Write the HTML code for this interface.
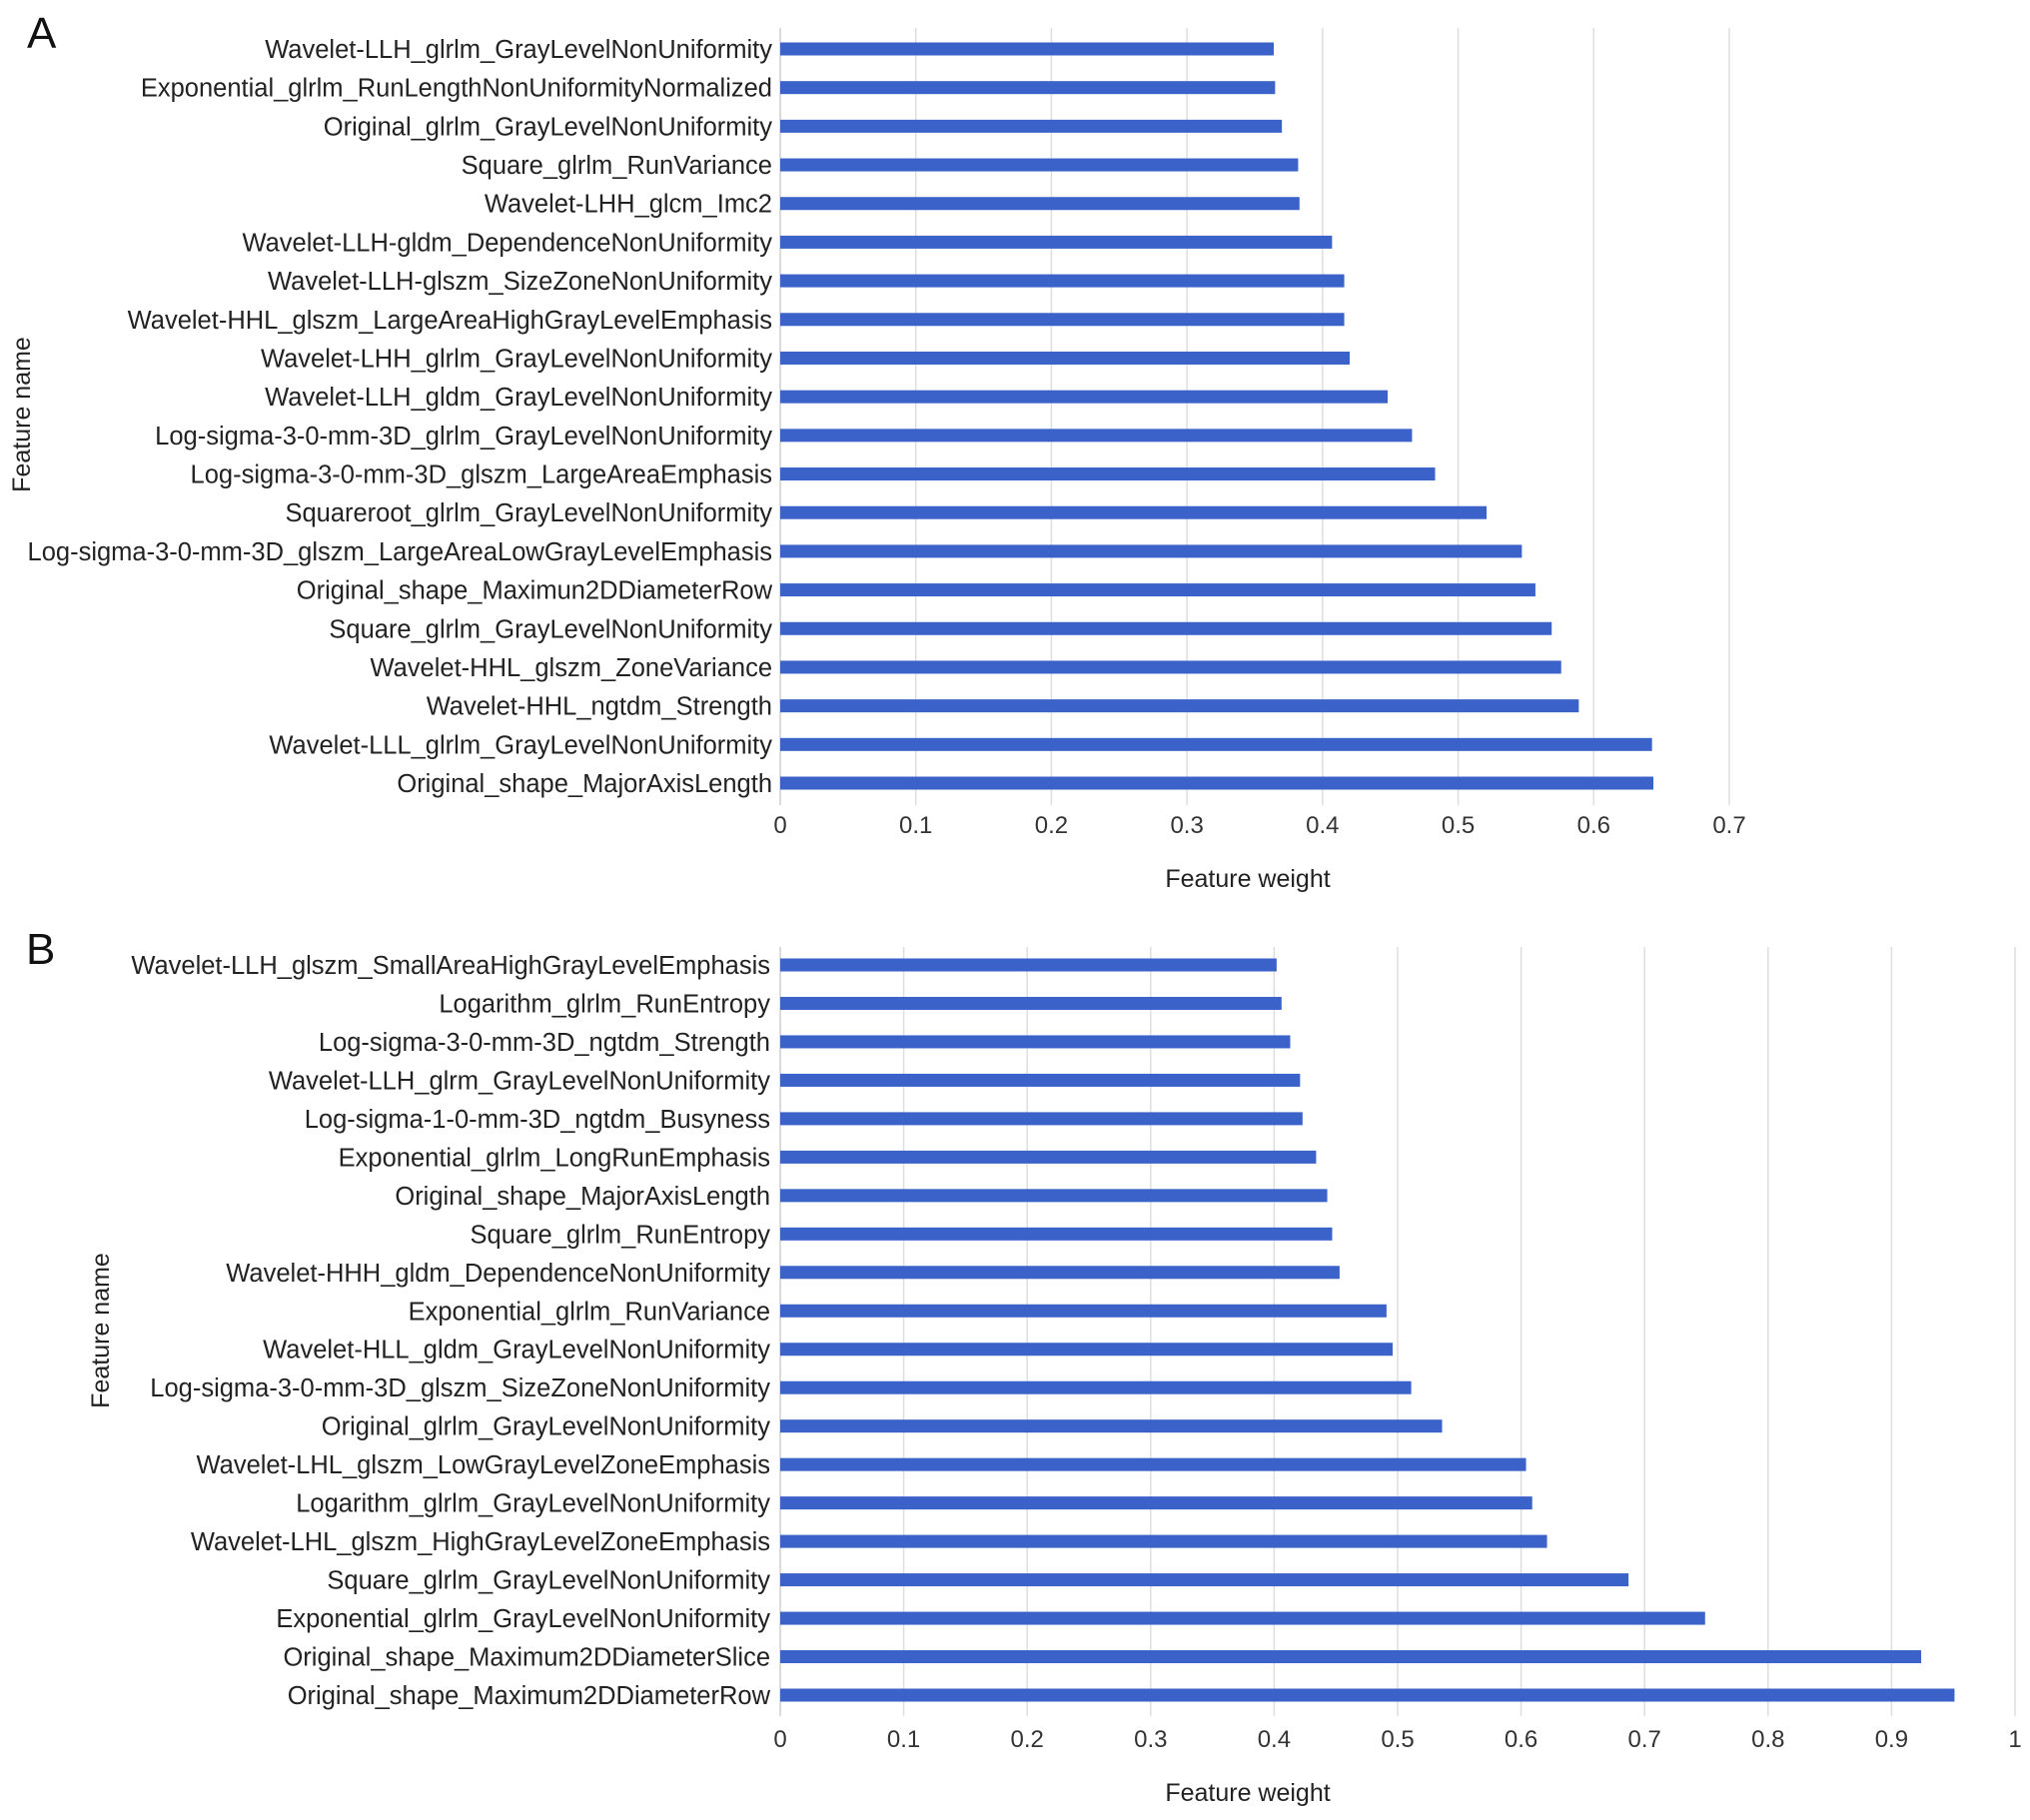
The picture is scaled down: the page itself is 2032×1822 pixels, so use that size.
<!DOCTYPE html>
<html><head><meta charset="utf-8"><style>
html,body{margin:0;padding:0;background:#fff;}
svg{display:block;font-family:"Liberation Sans",Arial,sans-serif;}
</style></head><body>
<svg id="fig" width="2032" height="1822" viewBox="0 0 2032 1822"></svg>
<script>
const labelsA = ["Wavelet-LLH_glrlm_GrayLevelNonUniformity","Exponential_glrlm_RunLengthNonUniformityNormalized","Original_glrlm_GrayLevelNonUniformity","Square_glrlm_RunVariance","Wavelet-LHH_glcm_Imc2","Wavelet-LLH-gldm_DependenceNonUniformity","Wavelet-LLH-glszm_SizeZoneNonUniformity","Wavelet-HHL_glszm_LargeAreaHighGrayLevelEmphasis","Wavelet-LHH_glrlm_GrayLevelNonUniformity","Wavelet-LLH_gldm_GrayLevelNonUniformity","Log-sigma-3-0-mm-3D_glrlm_GrayLevelNonUniformity","Log-sigma-3-0-mm-3D_glszm_LargeAreaEmphasis","Squareroot_glrlm_GrayLevelNonUniformity","Log-sigma-3-0-mm-3D_glszm_LargeAreaLowGrayLevelEmphasis","Original_shape_Maximun2DDiameterRow","Square_glrlm_GrayLevelNonUniformity","Wavelet-HHL_glszm_ZoneVariance","Wavelet-HHL_ngtdm_Strength","Wavelet-LLL_glrlm_GrayLevelNonUniformity","Original_shape_MajorAxisLength"];
const valuesA = [0.364,0.365,0.370,0.382,0.383,0.407,0.416,0.416,0.420,0.448,0.466,0.483,0.521,0.547,0.557,0.569,0.576,0.589,0.643,0.644];
const ticksA = ["0","0.1","0.2","0.3","0.4","0.5","0.6","0.7"];
const labelsB = ["Wavelet-LLH_glszm_SmallAreaHighGrayLevelEmphasis","Logarithm_glrlm_RunEntropy","Log-sigma-3-0-mm-3D_ngtdm_Strength","Wavelet-LLH_glrm_GrayLevelNonUniformity","Log-sigma-1-0-mm-3D_ngtdm_Busyness","Exponential_glrlm_LongRunEmphasis","Original_shape_MajorAxisLength","Square_glrlm_RunEntropy","Wavelet-HHH_gldm_DependenceNonUniformity","Exponential_glrlm_RunVariance","Wavelet-HLL_gldm_GrayLevelNonUniformity","Log-sigma-3-0-mm-3D_glszm_SizeZoneNonUniformity","Original_glrlm_GrayLevelNonUniformity","Wavelet-LHL_glszm_LowGrayLevelZoneEmphasis","Logarithm_glrlm_GrayLevelNonUniformity","Wavelet-LHL_glszm_HighGrayLevelZoneEmphasis","Square_glrlm_GrayLevelNonUniformity","Exponential_glrlm_GrayLevelNonUniformity","Original_shape_Maximum2DDiameterSlice","Original_shape_Maximum2DDiameterRow"];
const valuesB = [0.402,0.406,0.413,0.421,0.423,0.434,0.443,0.447,0.453,0.491,0.496,0.511,0.536,0.604,0.609,0.621,0.687,0.749,0.924,0.951];
const ticksB = ["0","0.1","0.2","0.3","0.4","0.5","0.6","0.7","0.8","0.9","1"];

const NS="http://www.w3.org/2000/svg";
const svg=document.getElementById('fig');
function mk(tag,attrs,parent){const e=document.createElementNS(NS,tag);for(const k in attrs)e.setAttribute(k,attrs[k]);(parent||svg).appendChild(e);return e;}

function chart(cfg,labels,values,ticks){
  const g=mk('g',{});
  
  
  const xMax=parseFloat(ticks[ticks.length-1]);
  const x=v=>cfg.x0+(v/xMax)*(cfg.x1-cfg.x0);
  const n=labels.length;
  const y=i=>cfg.yFirst+i*(cfg.yLast-cfg.yFirst)/(n-1);
  ticks.forEach((t,i)=>{
    const v=parseFloat(t);
    const ln=mk('line',{x1:x(v),x2:x(v),y1:cfg.gTop,y2:cfg.gBot,stroke:i===0?'#cfcfcf':'#dedede','stroke-width':1.5},g);
    
    
    const tx=mk('text',{x:x(v),y:cfg.tickY,'font-size':24,'text-anchor':'middle',fill:'#333'},g);
    tx.textContent=t;
    
    
  });
  labels.forEach((lab,i)=>{
    const r=mk('rect',{x:cfg.x0,y:y(i)-6.5,width:x(values[i])-cfg.x0,height:13,fill:'#3a62c8'},g);
    
    
    const t=mk('text',{x:cfg.labelX,y:y(i)+9,'font-size':25.5,'text-anchor':'end',fill:'#222'},g);
    t.textContent=lab;
    
    
  });
  const xt=mk('text',{x:1249,y:cfg.titleY,'font-size':25,'text-anchor':'middle',fill:'#222'},g);
  xt.textContent='Feature weight';
  
  
  const yt=mk('text',{x:0,y:0,'font-size':25,'text-anchor':'middle',fill:'#222',transform:`translate(${cfg.ytX},${cfg.ytY}) rotate(-90)`},g);
  yt.textContent='Feature name';
  
  
  const pl=mk('text',{x:cfg.panelX,y:cfg.panelY,'font-size':44,fill:'#111'},g);
  pl.textContent=cfg.panel;
  
  
}
chart({name:'chart-a',panel:'A',panelX:27,panelY:48,x0:781,x1:1731,yFirst:49,yLast:784,gTop:28,gBot:806,tickY:834,titleY:888,labelX:773,ytX:30,ytY:415},labelsA,valuesA,ticksA);
chart({name:'chart-b',panel:'B',panelX:26,panelY:965,x0:781,x1:2017,yFirst:966,yLast:1697,gTop:948,gBot:1718,tickY:1749,titleY:1803,labelX:771,ytX:109,ytY:1332},labelsB,valuesB,ticksB);
</script>
</body></html>
